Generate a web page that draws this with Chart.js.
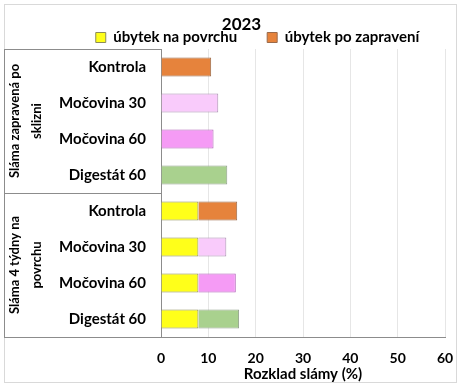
<!DOCTYPE html>
<html lang="cs">
<head>
<meta charset="UTF-8">
<title>Rozklad slámy 2023</title>
<script src="https://cdn.jsdelivr.net/npm/chart.js"></script>
<style>
    html, body { margin: 0; padding: 0; background: #fff; }
    .box { width: 461px; height: 386px; }
</style>
</head>
<body>
<div class="box"><canvas id="graf" width="461" height="386"></canvas></div>
<script>
    // data
    const kategorie = ['Kontrola', 'Močovina 30', 'Močovina 60', 'Digestát 60',
                       'Kontrola', 'Močovina 30', 'Močovina 60', 'Digestát 60'];
    const skupiny = [['Sláma zapravená po', 'sklizni'], ['Sláma 4 týdny na', 'povrchu']];
    const ubytekPovrch = [null, null, null, null, 7.9, 7.9, 7.9, 7.9];
    const ubytekZapraveni = [10.6, 12.1, 11.1, 14.0, 8.2, 5.9, 7.9, 8.6];
    const xTicks = [0, 10, 20, 30, 40, 50, 60];

    const barvyZapraveni = ['#E6833C', '#F9CBFB', '#F59BF5', '#A9D18E', '#E6833C', '#F9CBFB', '#F59BF5', '#A9D18E'];
    const okrajeZapraveni = ['#9a6a4a', '#a98fb0', '#b060b8', '#8f9f8a', '#9a6a4a', '#a98fb0', '#b060b8', '#8f9f8a'];

    const pismo = 'Lato, "Open Sans", sans-serif';

    const skupinyPlugin = {
        id: 'skupiny',
        afterInit(chart) {
            // legenda nizka, aby graf zacinal hned pod ni
            const fit = chart.legend.fit;
            chart.legend.fit = function () {
                fit.call(this);
                this.height = 16;
            };
        },
        afterLayout(chart) {
            // posun nadpisu a legendy doprava / nahoru jako v Excelu
            chart.titleBlock.left += 17;
            chart.titleBlock.right += 17;
            chart.legend.left += 33;
            chart.legend.right += 33;
            chart.legend.top = 0;
        },
        afterDraw(chart) {
            const ctx = chart.ctx;
            const y = chart.scales.y;
            const area = chart.chartArea;
            ctx.save();
            // ramecek grafu
            ctx.strokeStyle = '#d9d9d9';
            ctx.lineWidth = 1;
            ctx.strokeRect(4.5, 4.5, 452, 378);

            // cary kategorii vlevo
            ctx.strokeStyle = '#8c8c8c';
            const top = area.top, mid = y.getPixelForValue(3.5), bot = area.bottom;
            ctx.beginPath();
            ctx.moveTo(4, Math.round(top) + 0.5); ctx.lineTo(area.left, Math.round(top) + 0.5);
            ctx.moveTo(4, Math.round(mid) + 0.5); ctx.lineTo(area.left, Math.round(mid) + 0.5);
            ctx.moveTo(4, Math.round(bot) + 0.5); ctx.lineTo(area.left, Math.round(bot) + 0.5);
            ctx.moveTo(4.5, top); ctx.lineTo(4.5, bot);
            ctx.stroke();

            // popisky skupin
            ctx.fillStyle = '#000';
            ctx.font = 'bold 13px ' + pismo;
            ctx.textAlign = 'center';
            ctx.textBaseline = 'middle';
            const stredy = [y.getPixelForValue(1.5), y.getPixelForValue(5.5)];
            skupiny.forEach((radky, i) => {
                radky.forEach((t, j) => {
                    ctx.save();
                    ctx.translate(15 + j * 22, stredy[i]);
                    ctx.rotate(-Math.PI / 2);
                    ctx.fillText(t, 0, 0);
                    ctx.restore();
                });
            });
            ctx.restore();
        }
    };

    const ctx = document.getElementById('graf').getContext('2d');
    new Chart(ctx, {
        type: 'bar',
        data: {
            labels: kategorie,
            datasets: [
                {
                    label: 'úbytek na povrchu',
                    data: ubytekPovrch,
                    backgroundColor: '#FFFF1A',
                    borderColor: '#8c8c5a',
                    borderWidth: 1,
                    barPercentage: 0.53,
                    categoryPercentage: 1
                },
                {
                    label: 'úbytek po zapravení',
                    data: ubytekZapraveni,
                    backgroundColor: barvyZapraveni,
                    borderColor: okrajeZapraveni,
                    borderWidth: 1,
                    barPercentage: 0.53,
                    categoryPercentage: 1
                }
            ]
        },
        options: {
            indexAxis: 'y',
            responsive: false,
            animation: false,
            layout: { padding: { top: 16, left: 4, right: 16, bottom: 4 } },
            plugins: {
                title: {
                    display: true,
                    text: '2023',
                    color: '#000',
                    font: { family: pismo, size: 17, weight: 'bold', lineHeight: 1 },
                    padding: { top: 0, bottom: 0 }
                },
                legend: {
                    display: true,
                    labels: {
                        color: '#000',
                        boxWidth: 10,
                        boxHeight: 10,
                        padding: 30,
                        font: { family: pismo, size: 15, weight: 'bold', lineHeight: 1 },
                        generateLabels() {
                            return [
                                { text: 'úbytek na povrchu', fillStyle: '#FFFF1A', strokeStyle: '#8c8c5a', lineWidth: 1, datasetIndex: 0 },
                                { text: 'úbytek po zapravení', fillStyle: '#E6833C', strokeStyle: '#9a6a4a', lineWidth: 1, datasetIndex: 1 }
                            ];
                        }
                    }
                },
                tooltip: { enabled: false }
            },
            scales: {
                x: {
                    stacked: true,
                    min: 0,
                    max: 60,
                    afterBuildTicks(scale) { scale.ticks = xTicks.map(v => ({ value: v })); },
                    afterFit(scale) {
                        scale.height = 45;
                        scale.paddingLeft = 0;
                        scale.paddingRight = 0;
                    },
                    grid: { color: '#e6e6e6', drawTicks: false },
                    border: { display: true, color: '#8c8c8c' },
                    ticks: {
                        color: '#000',
                        padding: 14,
                        font: { family: pismo, size: 14, weight: 'bold', lineHeight: 1 }
                    },
                    title: {
                        display: true,
                        text: 'Rozklad slámy (%)',
                        color: '#000',
                        padding: { top: 2, bottom: 0 },
                        font: { family: pismo, size: 15, weight: 'bold', lineHeight: 1 }
                    }
                },
                y: {
                    stacked: true,
                    grid: { display: false, drawTicks: false },
                    border: { display: true, color: '#8c8c8c' },
                    ticks: {
                        color: '#000',
                        padding: 15,
                        font: { family: pismo, size: 15, weight: 'bold', lineHeight: 1 }
                    },
                    afterFit(scale) { scale.width = 157; }
                }
            }
        },
        plugins: [skupinyPlugin]
    });
</script>
</body>
</html>
